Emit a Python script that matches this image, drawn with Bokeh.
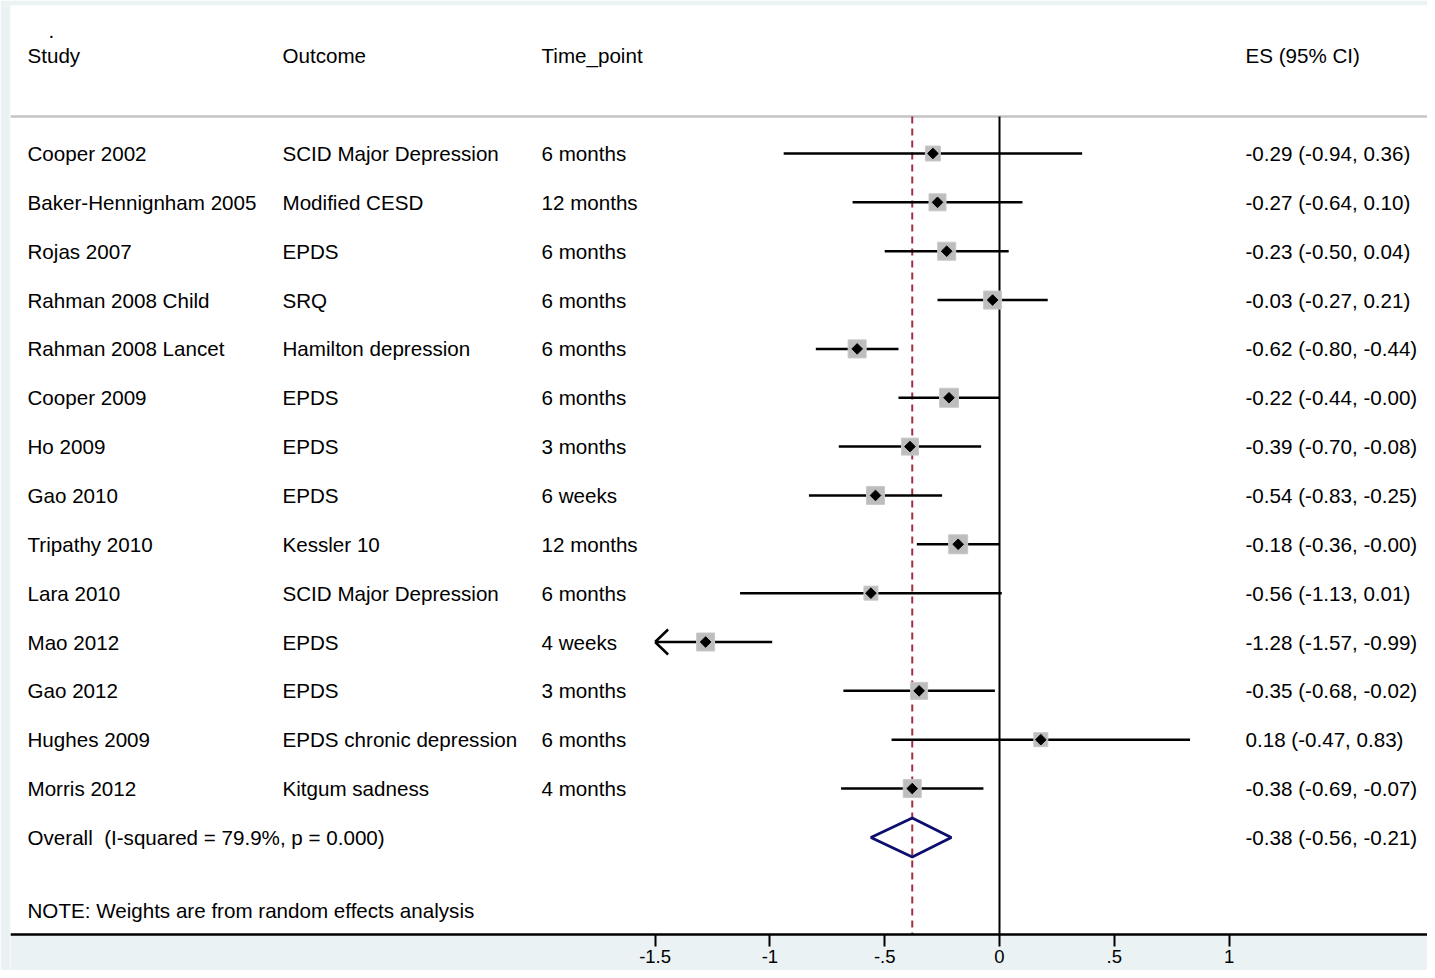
from bokeh.plotting import figure
from bokeh.models import Range1d, FixedTicker, ColumnDataSource
from bokeh.embed import file_html
from bokeh.resources import INLINE
from bokeh.core.properties import value

# ---------------- data ----------------
studies = ["Cooper 2002", "Baker-Hennignham 2005", "Rojas 2007", "Rahman 2008 Child",
           "Rahman 2008 Lancet", "Cooper 2009", "Ho 2009", "Gao 2010", "Tripathy 2010",
           "Lara 2010", "Mao 2012", "Gao 2012", "Hughes 2009", "Morris 2012"]
outcomes = ["SCID Major Depression", "Modified CESD", "EPDS", "SRQ", "Hamilton depression",
            "EPDS", "EPDS", "EPDS", "Kessler 10", "SCID Major Depression", "EPDS", "EPDS",
            "EPDS chronic depression", "Kitgum sadness"]
time_points = ["6 months", "12 months", "6 months", "6 months", "6 months", "6 months",
               "3 months", "6 weeks", "12 months", "6 months", "4 weeks", "3 months",
               "6 months", "4 months"]
es = [-0.29, -0.27, -0.23, -0.03, -0.62, -0.22, -0.39, -0.54, -0.18, -0.56, -1.28, -0.35, 0.18, -0.38]
ci_low = [-0.94, -0.64, -0.50, -0.27, -0.80, -0.44, -0.70, -0.83, -0.36, -1.13, -1.57, -0.68, -0.47, -0.69]
ci_high = [0.36, 0.10, 0.04, 0.21, -0.44, -0.0, -0.08, -0.25, -0.0, 0.01, -0.99, -0.02, 0.83, -0.07]
weight_box = [15, 17, 18, 18, 18, 19, 17, 18, 19, 14, 18, 17, 14, 18]   # relative box sizes

overall_label = "Overall\u00a0 (I-squared = 79.9%, p = 0.000)"
overall_es, overall_low, overall_high = -0.38, -0.56, -0.21
note_text = "NOTE: Weights are from random effects analysis"
headers = ["Study", "Outcome", "Time_point", "ES (95% CI)"]
tick_values = [-1.5, -1, -0.5, 0, 0.5, 1]
tick_labels = ["-1.5", "-1", "-.5", "0", ".5", "1"]

# ---------------- layout ----------------
FONT = "Liberation Sans"
FS = "20.6px"
BG = "#eaf2f3"
W, H = 1427, 970
BL, BT, BB = 10, 5, 0
KX = 229.6                  # px per unit on x
ZERO_PX = 999               # page px of x = 0
x_start = (BL - ZERO_PX) / KX
x_end = (W - ZERO_PX) / KX
ROW0, ROWH = 153, 48.85     # page y of first row, row pitch
y_top = (BT - ROW0) / ROWH
y_bot = (H - BB - ROW0) / ROWH
KY = ROWH
axis_row = (934 - ROW0) / ROWH
axis_min = min(tick_values)
axis_max = x_end

def col_x(px):
    return (px - ZERO_PX) / KX

n = len(studies)
rows = list(range(n))
overall_row = n
header_row = -2
note_row = n + 1.5
line_row = (116 - ROW0) / ROWH

ci_text = [f"{e:.2f} ({l:.2f}, {h:.2f})" for e, l, h in zip(es, ci_low, ci_high)]
overall_ci_text = f"{overall_es:.2f} ({overall_low:.2f}, {overall_high:.2f})"

p = figure(width=W, height=H, x_range=Range1d(x_start, x_end), y_range=Range1d(y_bot, y_top),
           output_backend="svg", toolbar_location=None, y_axis_location=None,
           min_border_left=BL, min_border_right=0, min_border_top=BT, min_border_bottom=BB)
p.grid.visible = False
p.outline_line_color = None
p.background_fill_color = "white"
p.border_fill_color = BG

# band below the axis
p.quad(left=[x_start], right=[x_end], bottom=[y_bot], top=[axis_row], fill_color=BG, line_color=None)

# axis drawn at a fixed location
ax = p.xaxis[0]
ax.fixed_location = axis_row
ax.ticker = FixedTicker(ticks=tick_values)
ax.major_label_overrides = {v: l for v, l in zip(tick_values, tick_labels)}
ax.major_label_text_font = FONT
ax.major_label_text_font_size = "18.5px"
ax.major_label_text_color = "black"
ax.major_label_standoff = 3
ax.axis_line_width = 2.5
ax.axis_line_color = "black"
ax.major_tick_out = 12
ax.major_tick_in = 0
ax.major_tick_line_width = 2
ax.major_tick_line_color = "black"
ax.minor_tick_line_color = None

# header separator
p.segment(x0=[x_start], x1=[x_end], y0=[line_row], y1=[line_row], line_color="#c4c4c4", line_width=2.5)
# zero line
p.segment(x0=[0], x1=[0], y0=[line_row], y1=[axis_row], line_color="black", line_width=2)
# overall dashed line
p.segment(x0=[overall_es], x1=[overall_es], y0=[line_row], y1=[axis_row], line_color="#a03040",
          line_width=2, line_dash="7 5")

# CI lines
x0 = [max(l, axis_min) for l in ci_low]
x1 = [min(h, axis_max) for h in ci_high]
src = ColumnDataSource(dict(y=rows, es=es, x0=x0, x1=x1, box=weight_box))
p.segment(x0="x0", x1="x1", y0="y", y1="y", source=src, line_color="black", line_width=2.5)

# arrows for truncated CIs
ax_x, ax_y0, ax_y1, ax_xt = [], [], [], []
for i, l in enumerate(ci_low):
    if l < axis_min:
        for s in (-1, 1):
            ax_x.append(axis_min)
            ax_xt.append(axis_min + 13 / KX)
            ax_y0.append(i)
            ax_y1.append(i + s * 12.5 / KY)
if ax_x:
    p.segment(x0=ax_x, x1=ax_xt, y0=ax_y0, y1=ax_y1, line_color="black", line_width=2.5)

# weight boxes + point markers
p.scatter(x="es", y="y", size="box", marker="square", source=src, fill_color="#bdbdbd",
          line_color="#c8c8c8", line_width=1)
p.scatter(x="es", y="y", size=7.5, marker="square", angle=0.7854, source=src,
          fill_color="black", line_color="black")

# overall diamond
hh = 19.5 / KY
p.patch(x=[overall_low, overall_es, overall_high, overall_es],
        y=[overall_row, overall_row - hh, overall_row, overall_row + hh],
        fill_color=None, line_color="#0d0d6e", line_width=2.8)

# table text
tsrc = ColumnDataSource(dict(y=rows, study=studies, outcome=outcomes, tp=time_points, ci=ci_text))
for field, px in (("study", 27), ("outcome", 282), ("tp", 541), ("ci", 1245)):
    p.text(x=col_x(px), y="y", text=field, source=tsrc, text_font=value(FONT),
           text_font_size=FS, text_baseline="middle", text_align="left", text_color="black")

for h, px in zip(headers, (27, 282, 541, 1245)):
    p.text(x=[col_x(px)], y=[header_row], text=[h], text_font=value(FONT), text_font_size=FS,
           text_baseline="middle", text_align="left", text_color="black")
p.text(x=[col_x(48)], y=[header_row - 0.5], text=["."], text_font=value(FONT), text_font_size=FS,
       text_baseline="middle", text_align="left", text_color="black")

p.text(x=[col_x(27)], y=[overall_row], text=[overall_label], text_font=value(FONT), text_font_size=FS,
       text_baseline="middle", text_align="left", text_color="black")
p.text(x=[col_x(1245)], y=[overall_row], text=[overall_ci_text], text_font=value(FONT), text_font_size=FS,
       text_baseline="middle", text_align="left", text_color="black")
p.text(x=[col_x(27)], y=[note_row], text=[note_text], text_font=value(FONT), text_font_size=FS,
       text_baseline="middle", text_align="left", text_color="black")

open("out.html", "w").write(file_html(p, INLINE))
